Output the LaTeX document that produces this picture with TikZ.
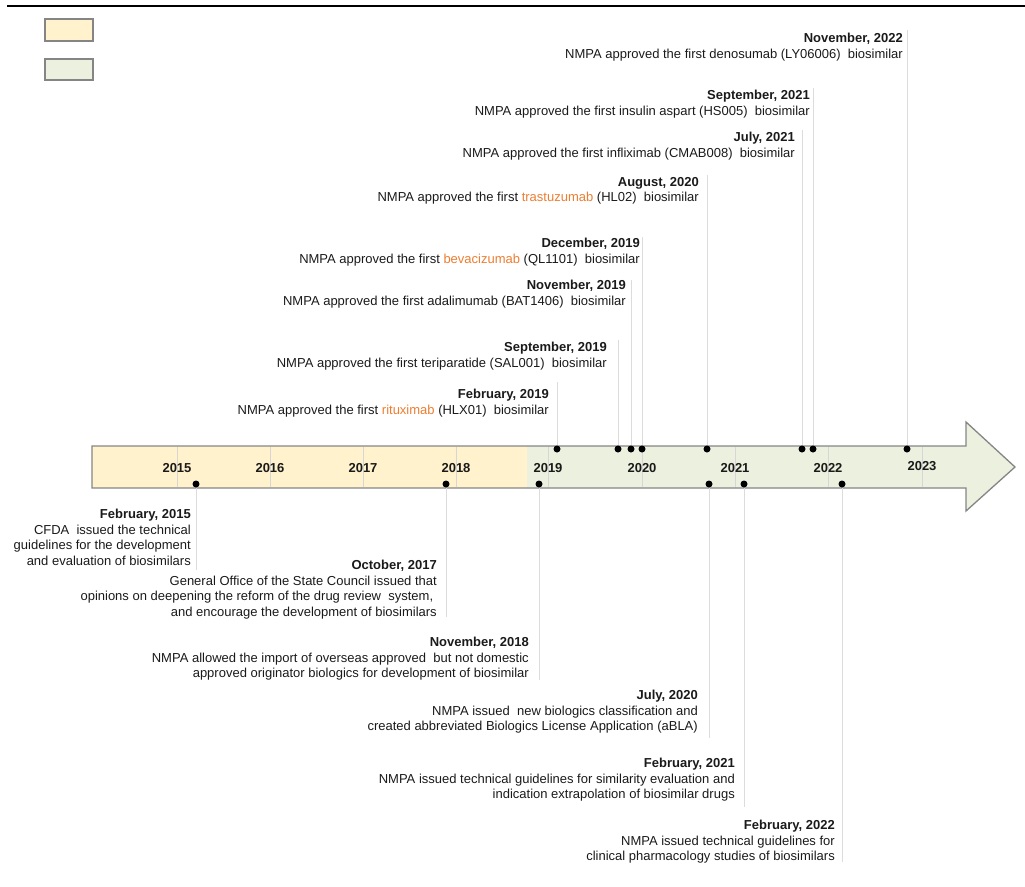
\documentclass[tikz,border=0pt]{standalone}
\usepackage{fontspec}
\setmainfont{Liberation Sans}
\definecolor{yel}{HTML}{FFF2CC}
\definecolor{grn}{HTML}{EBF1DE}
\definecolor{edge}{HTML}{858585}
\definecolor{conc}{HTML}{DCDCDC}
\definecolor{gridc}{HTML}{D6D6D6}
\definecolor{txt}{HTML}{1A1A1A}
\definecolor{org}{HTML}{ED7D31}
\newcommand{\drug}[1]{\textcolor{org}{#1}}
\newcommand{\tsp}{\hspace*{3.6pt}}
\begin{document}
\begin{tikzpicture}[x=1pt,y=-1pt,
  evt/.style={anchor=north east,align=right,inner sep=0pt,text=txt,
    font=\fontsize{13}{15.5}\selectfont},
  yearlbl/.style={inner sep=0pt,text=txt,font=\fontsize{13}{15.5}\selectfont\bfseries},
  dot/.style={circle,fill=black,inner sep=0pt,minimum size=7pt},
  conn/.style={draw=conc,line width=1pt},
  gridln/.style={draw=gridc,line width=1pt},
  legendbox/.style={draw=edge,line width=1.5pt}]
\useasboundingbox (0,0) rectangle (1025,886);

% top rule
\draw[line width=2pt,black] (7,6) -- (1025,6);

% legend
\filldraw[legendbox,fill=yel] (45,19) rectangle (93,41);
\filldraw[legendbox,fill=grn] (45,59) rectangle (93,80);

% timeline arrow
\fill[yel] (92,446) rectangle (527,488);
\fill[grn] (527,446) -- (966,446) -- (966,422) -- (1015,467) -- (966,511) -- (966,488) -- (527,488) -- cycle;
\foreach \gx in {177,270,363,456,548,642,735,828,922}
  \draw[gridln] (\gx,447) -- (\gx,487);
\draw[draw=edge,line width=1.3pt,line join=miter] (92,446) -- (966,446) -- (966,422) -- (1015,467) -- (966,511) -- (966,488) -- (92,488) -- cycle;

% years
\node[yearlbl] (y15) at (177,468) {2015};
\node[yearlbl] (y16) at (270,468) {2016};
\node[yearlbl] (y17) at (363,468) {2017};
\node[yearlbl] (y18) at (456,468) {2018};
\node[yearlbl] (y19) at (548,468) {2019};
\node[yearlbl] (y20) at (642,468) {2020};
\node[yearlbl] (y21) at (735,468) {2021};
\node[yearlbl] (y22) at (828,468) {2022};
\node[yearlbl] (y23) at (922,466) {2023};

% ---------- upper events ----------
\node[evt] (u1) at (903,33.2) {\textbf{November, 2022}\\NMPA approved the first denosumab (LY06006)\ \ biosimilar};
\node[evt] (u2) at (810,90.2) {\textbf{September, 2021}\\NMPA approved the first insulin aspart (HS005)\ \ biosimilar};
\node[evt] (u3) at (795,132.2) {\textbf{July, 2021}\\NMPA approved the first infliximab (CMAB008)\ \ biosimilar};
\node[evt] (u4) at (699,177.2) {\textbf{August, 2020}\\NMPA approved the first \drug{trastuzumab} (HL02)\ \ biosimilar};
\node[evt] (u5) at (640,238.2) {\textbf{December, 2019}\\NMPA approved the first \drug{bevacizumab} (QL1101)\ \ biosimilar};
\node[evt] (u6) at (626,280.2) {\textbf{November, 2019}\\NMPA approved the first adalimumab (BAT1406)\ \ biosimilar};
\node[evt] (u7) at (607,342.2) {\textbf{September, 2019}\\NMPA approved the first teriparatide (SAL001)\ \ biosimilar};
\node[evt] (u8) at (549,389.2) {\textbf{February, 2019}\\NMPA approved the first \drug{rituximab} (HLX01)\ \ biosimilar};

\coordinate (cu1) at (907,30);
\coordinate (cu2) at (813,88);
\coordinate (cu3) at (802,130);
\coordinate (cu4) at (707,175);
\coordinate (cu5) at (642,237);
\coordinate (cu6) at (631,280);
\coordinate (cu7) at (618,340);
\coordinate (cu8) at (557,382);

\node[dot] (du1) at (907,449) {};
\node[dot] (du2) at (813,449) {};
\node[dot] (du3) at (802,449) {};
\node[dot] (du4) at (707,449) {};
\node[dot] (du5) at (642,449) {};
\node[dot] (du6) at (631,449) {};
\node[dot] (du7) at (618,449) {};
\node[dot] (du8) at (557,449) {};

\foreach \i in {1,...,8} \draw[conn] (cu\i) -- (du\i);

% ---------- lower events ----------
\node[evt] (l1) at (191,509.2) {\textbf{February, 2015}\\CFDA\ \ issued the technical\tsp\\guidelines for the development\\and evaluation of biosimilars};
\node[evt] (l2) at (437,560.2) {\textbf{October, 2017}\\General Office of the State Council issued that\\opinions on deepening the reform of the drug review\ \ system,\tsp\tsp\\and encourage the development of biosimilars};
\node[evt] (l3) at (529,637.2) {\textbf{November, 2018}\\NMPA allowed the import of overseas approved\ \ but not domestic\tsp\\approved originator biologics for development of biosimilar};
\node[evt] (l4) at (698,690.2) {\textbf{July, 2020}\\NMPA issued\ \ new biologics classification and\tsp\\created abbreviated Biologics License Application (aBLA)};
\node[evt] (l5) at (735,758.2) {\textbf{February, 2021}\\NMPA issued technical guidelines for similarity evaluation and\\indication extrapolation of biosimilar drugs};
\node[evt] (l6) at (835,820.2) {\textbf{February, 2022}\\NMPA issued technical guidelines for\tsp\\clinical pharmacology studies of biosimilars};

\node[dot] (dl1) at (196,484) {};
\node[dot] (dl2) at (446,484) {};
\node[dot] (dl3) at (539,484) {};
\node[dot] (dl4) at (709,484) {};
\node[dot] (dl5) at (744,484) {};
\node[dot] (dl6) at (842,484) {};

\coordinate (cl1) at (196,570);
\coordinate (cl2) at (446,617);
\coordinate (cl3) at (539,680);
\coordinate (cl4) at (709,738);
\coordinate (cl5) at (744,807);
\coordinate (cl6) at (842,862);

\foreach \i in {1,...,6} \draw[conn] (dl\i) -- (cl\i);
\end{tikzpicture}
\end{document}
